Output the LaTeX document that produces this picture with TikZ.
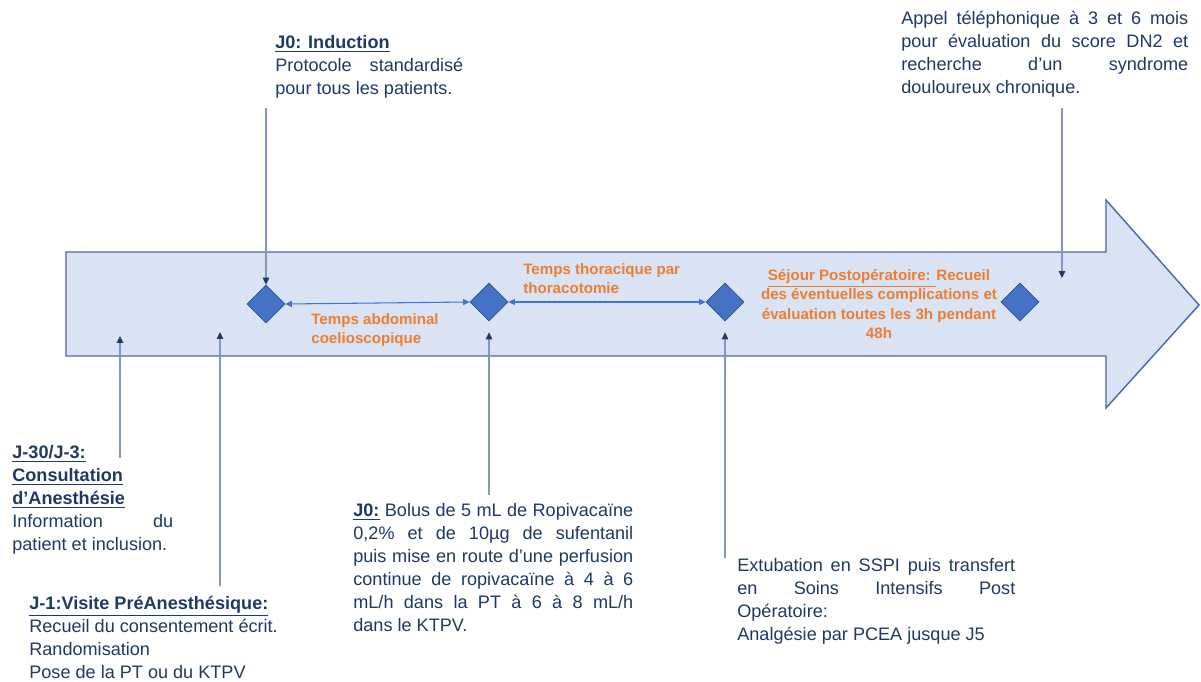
\documentclass[tikz,border=0pt]{standalone}
\usepackage{fontspec}
\setmainfont{Liberation Sans}
\usepackage{tikz}
\usetikzlibrary{arrows.meta,calc,positioning,shapes.geometric}
\definecolor{txt}{RGB}{31,56,100}
\definecolor{org}{RGB}{237,125,49}
\definecolor{bar}{RGB}{218,227,243}
\definecolor{barline}{RGB}{72,104,165}
\definecolor{dia}{RGB}{68,114,196}
\definecolor{dialine}{RGB}{47,82,143}
\definecolor{conn}{RGB}{132,151,190}

\begin{document}
\begin{tikzpicture}[
      x=0.02cm, y=-0.02cm,
      info/.style={font=\fontsize{10.3}{13.1}\selectfont, text=txt, inner sep=0pt, anchor=north west, align=justify},
      phase/.style={font=\fontsize{8.6}{11}\selectfont\bfseries, text=org, inner sep=0pt, anchor=north west, align=left},
      jalon/.style={diamond, aspect=1, minimum width=7.6mm, minimum height=7.6mm, inner sep=0pt, fill=dia, draw=dialine, line width=0.4pt},
      link/.style={draw=conn, line width=0.6pt, -{Triangle[length=1.4mm,width=1.3mm,color=txt]}},
      span/.style={draw=dia, line width=0.6pt, {Triangle[length=1.3mm,width=1.2mm]}-{Triangle[length=1.3mm,width=1.2mm]}},
]
\useasboundingbox (0,0) rectangle (1201,682);

% timeline arrow
\draw[draw=barline, fill=bar, line width=0.8pt] (66,252) -- (1106,252) -- (1106,200) -- (1199,305) -- (1106,408) -- (1106,356) -- (66,356) -- cycle;

\node[jalon] (d1) at (266,304) {};
\node[jalon] (d2) at (489,302) {};
\node[jalon] (d3) at (725,302) {};
\node[jalon] (d4) at (1020,302) {};

\draw[span] (d1.east) -- (d2.west);
\draw[span] (d2.east) -- (d3.west);

\node[phase] (abdo) at (311,313) {Temps abdominal\\coelioscopique};
\node[phase] (thorax) at (523,263) {Temps thoracique par\\thoracotomie};
\node[phase, anchor=north, align=center] (sejour) at (879,269) {\underline{Séjour Postopératoire: }Recueil\\des éventuelles complications et\\évaluation toutes les 3h pendant\\48h};

% texts above / below
\node[info, text width=3.76cm] (t_ind) at (275,35) {\underline{\textbf{J0: Induction}}\\Protocole standardisé\linebreak pour tous les patients.};
\node[info, text width=5.74cm] (t_appel) at (901,11) {Appel téléphonique à 3 et 6 mois\linebreak pour évaluation du score DN2 et\linebreak recherche d’un syndrome\linebreak douloureux chronique.};
\node[info, text width=3.22cm] (t_j30) at (12,445) {\underline{\textbf{J-30/J-3:}}\\\underline{\textbf{Consultation}}\\\underline{\textbf{d’Anesthésie}}\\Information du\linebreak patient et inclusion.};
\node[info, align=left] (t_j1) at (29,596) {\underline{\textbf{J-1:Visite PréAnesthésique:}}\\Recueil du consentement écrit.\\Randomisation\\Pose de la PT ou du KTPV};
\node[info, text width=5.6cm] (t_bolus) at (353,503) {\underline{\textbf{J0:}} Bolus de 5 mL de Ropivacaïne\linebreak 0,2\% et de 10µg de sufentanil\linebreak puis mise en route d’une perfusion\linebreak continue de ropivacaïne à 4 à 6\linebreak mL/h dans la PT à 6 à 8 mL/h\linebreak dans le KTPV.};
\node[info, text width=5.56cm] (t_ext) at (737,558) {Extubation en SSPI puis transfert\linebreak en Soins Intensifs Post\linebreak Opératoire:\\Analgésie par PCEA jusque J5};

\coordinate (j30_top) at (120,458);
\coordinate (j30_end) at (120,336);
\coordinate (j1_end) at (220,332);
\coordinate (appel_end) at (1062,278);

\draw[link, shorten <=1.8mm] (t_ind.south -| d1) -- (d1.north);
\draw[link, shorten <=2mm] (t_appel.south -| appel_end) -- (appel_end);
\draw[link] (j30_top) -- (j30_end);
\draw[link, shorten <=2mm] (t_j1.north -| j1_end) -- (j1_end);
\draw[link, shorten <=1.6mm, shorten >=2.2mm] (t_bolus.north -| d2) -- (d2.south);
\draw[link, shorten >=2.2mm] (t_ext.north -| d3) -- (d3.south);

\end{tikzpicture}
\end{document}
